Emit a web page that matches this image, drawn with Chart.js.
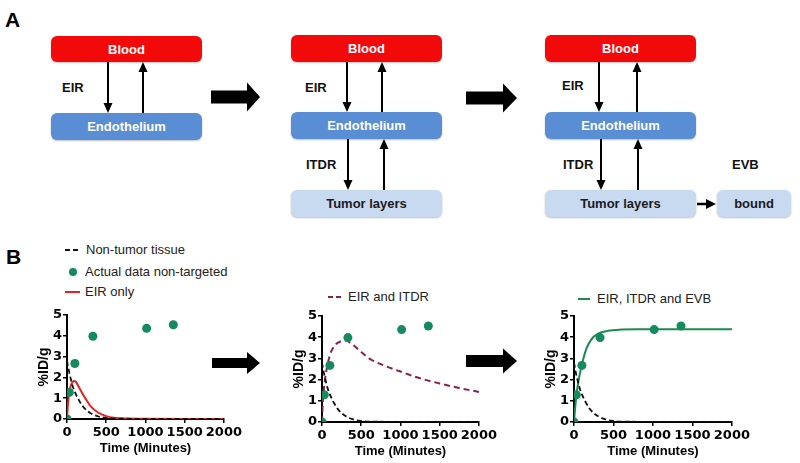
<!DOCTYPE html>
<html>
<head>
<meta charset="utf-8">
<script src="https://cdn.jsdelivr.net/npm/chart.js@4"></script>
<style>
body { margin: 0; background: #fff; width: 800px; height: 463px; position: relative; overflow: hidden; font-family: "Liberation Sans", Arial, sans-serif; }
.caja { position: absolute; border-radius: 6px; font-weight: bold; font-size: 13px; display: flex; align-items: center; justify-content: center; box-shadow: 0 1px 2px rgba(0,0,0,0.25); }
.roja { background: #f20a0a; color: #fff; }
.azul { background: #5a8ed4; color: #fff; }
.clara { background: #c8daf0; color: #1b1b24; }
.etq { position: absolute; font-weight: bold; font-size: 13px; line-height: 13px; color: #111; }
.panel { position: absolute; font-weight: bold; font-size: 21px; line-height: 21px; }
.leyenda { position: absolute; font-size: 13px; line-height: 14px; display: flex; align-items: center; white-space: nowrap; color: #222; }
.leyenda svg { margin-right: 5px; }
canvas { position: absolute; }
#flechas { position: absolute; left: 0; top: 0; }
</style>
</head>
<body>

<div class="panel" style="left:5px;top:9px">A</div>
<div class="panel" style="left:6px;top:246px">B</div>

<!-- Panel A: esquemas -->
<div class="caja roja" style="left:51px;top:36px;width:151px;height:26px">Blood</div>
<div class="caja azul" style="left:51px;top:113px;width:151px;height:27px">Endothelium</div>
<div class="etq" style="left:62px;top:81px">EIR</div>

<div class="caja roja" style="left:291px;top:35px;width:151px;height:27px">Blood</div>
<div class="caja azul" style="left:291px;top:112px;width:151px;height:27px">Endothelium</div>
<div class="caja clara" style="left:291px;top:190px;width:151px;height:27px">Tumor layers</div>
<div class="etq" style="left:305px;top:81px">EIR</div>
<div class="etq" style="left:306px;top:158px">ITDR</div>

<div class="caja roja" style="left:545px;top:35px;width:151px;height:27px">Blood</div>
<div class="caja azul" style="left:545px;top:112px;width:151px;height:27px">Endothelium</div>
<div class="caja clara" style="left:545px;top:190px;width:151px;height:27px">Tumor layers</div>
<div class="caja clara" style="left:717px;top:190px;width:74px;height:27px">bound</div>
<div class="etq" style="left:562px;top:79px">EIR</div>
<div class="etq" style="left:563px;top:158px">ITDR</div>
<div class="etq" style="left:732px;top:158px">EVB</div>

<svg id="flechas" width="800" height="463"></svg>

<!-- Panel B: leyendas -->
<div class="leyenda" style="left:65px;top:243px">
  <svg width="16" height="4"><line x1="0" y1="2" x2="16" y2="2" stroke="#111" stroke-width="2" stroke-dasharray="5,3"/></svg>Non-tumor tissue</div>
<div class="leyenda" style="left:68px;top:265px">
  <svg width="12" height="10"><circle cx="5" cy="5" r="4" fill="#158a5e"/></svg>Actual data non-targeted</div>
<div class="leyenda" style="left:65px;top:285px">
  <svg width="15" height="4"><line x1="0" y1="2" x2="15" y2="2" stroke="#e8231f" stroke-width="2"/></svg>EIR only</div>
<div class="leyenda" style="left:328px;top:290px">
  <svg width="15" height="4"><line x1="0" y1="2" x2="15" y2="2" stroke="#8a1f4f" stroke-width="2" stroke-dasharray="5,3"/></svg>EIR and ITDR</div>
<div class="leyenda" style="left:578px;top:292px">
  <svg width="14" height="4"><line x1="0" y1="2" x2="12" y2="2" stroke="#1c8a4e" stroke-width="2"/></svg>EIR, ITDR and EVB</div>

<canvas id="grafico-1" width="224" height="152" style="left:20px;top:305px"></canvas>
<canvas id="grafico-2" width="224" height="154" style="left:275px;top:306px"></canvas>
<canvas id="grafico-3" width="225" height="154" style="left:527px;top:306px"></canvas>

<script>
// Datos
const ticksTiempo = [0, 500, 1000, 1500, 2000];
const ticksID = [0, 1, 2, 3, 4, 5];

// Datos reales (no dirigidos)
const tiempoDatos = [0, 30, 100, 330, 1015, 1355];
const datosNoDirigidos = [0, 1.28, 2.67, 3.98, 4.36, 4.53];

// Tejido no tumoral (línea negra discontinua)
const tiempoTejido = [0, 25, 50, 75, 100, 150, 200, 250, 300, 400, 500, 600, 800, 1000, 1500, 2000];
const tejidoNoTumoral = [2.8, 2.3, 1.9, 1.55, 1.3, 0.92, 0.62, 0.42, 0.28, 0.12, 0.05, 0.02, 0.01, 0, 0, 0];

// Solo EIR
const tiempoEIR = [0, 10, 25, 50, 75, 90, 110, 150, 200, 250, 300, 400, 500, 600, 800, 1000, 1500, 2000];
const soloEIR = [0, 0.6, 1.2, 1.62, 1.8, 1.83, 1.8, 1.55, 1.2, 0.9, 0.62, 0.3, 0.14, 0.06, 0.02, 0.01, 0, 0];

// EIR e ITDR
const tiempoITDR = [0, 10, 25, 55, 100, 160, 250, 300, 400, 500, 600, 800, 1000, 1250, 1500, 1750, 2000];
const eirItdr = [0, 0.9, 1.6, 2.4, 3.15, 3.6, 3.82, 3.84, 3.62, 3.3, 3.0, 2.65, 2.38, 2.06, 1.82, 1.6, 1.42];

// EIR, ITDR y EVB
const tiempoEVB = [0, 10, 30, 60, 93, 157, 220, 305, 430, 600, 800, 1000, 1500, 2000];
const eirItdrEvb = [0, 0.45, 1.26, 2.0, 2.6, 3.46, 3.9, 4.17, 4.3, 4.36, 4.38, 4.38, 4.38, 4.38];

const aPuntos = (xs, ys) => xs.map((x, i) => ({ x: x, y: ys[i] }));

// Flechas del esquema
function dibujarFlechas() {
    const svg = document.getElementById('flechas');
    let html = '';
    // flecha fina vertical: de y1 a y2, punta en y2
    const vertical = (x, y1, y2) => {
        const d = y2 > y1 ? 1 : -1;
        html += `<line x1="${x}" y1="${y1}" x2="${x}" y2="${y2 - d * 8}" stroke="#000" stroke-width="2"/>`;
        html += `<polygon points="${x - 4.5},${y2 - d * 10} ${x + 4.5},${y2 - d * 10} ${x},${y2}" fill="#000"/>`;
    };
    const gruesa = (x0, xh, xt, yc, hs, hh) => {
        html += `<polygon points="${x0},${yc - hs} ${xh},${yc - hs} ${xh},${yc - hh} ${xt},${yc} ${xh},${yc + hh} ${xh},${yc + hs} ${x0},${yc + hs}" fill="#000"/>`;
    };
    vertical(108, 62, 113); vertical(143, 113, 62);
    vertical(347, 62, 112); vertical(382, 112, 62);
    vertical(348, 139, 190); vertical(384, 190, 139);
    vertical(599, 62, 112); vertical(637, 112, 62);
    vertical(601, 139, 190); vertical(638, 190, 139);
    // flecha horizontal hacia "bound"
    html += `<line x1="697" y1="204" x2="708" y2="204" stroke="#000" stroke-width="2.5"/>`;
    html += `<polygon points="706,199 716,204 706,209" fill="#000"/>`;
    gruesa(211, 247, 260, 97, 6.5, 14.5);
    gruesa(466, 503, 517, 98, 6.5, 14.5);
    gruesa(212, 247, 260, 363, 5, 11);
    gruesa(466, 503, 517, 361, 6, 12.5);
    svg.innerHTML = html;
}

function serieTejido() {
    return {
        data: aPuntos(tiempoTejido, tejidoNoTumoral),
        showLine: true, pointRadius: 0, borderColor: '#111', borderWidth: 1.8,
        borderDash: [5, 3], cubicInterpolationMode: 'monotone'
    };
}

function seriePuntos() {
    return {
        data: aPuntos(tiempoDatos, datosNoDirigidos),
        showLine: false, pointRadius: 4.5, pointBackgroundColor: '#158a5e',
        pointBorderWidth: 0, borderColor: '#158a5e'
    };
}

function serieCurva(xs, ys, color, dash) {
    return {
        data: aPuntos(xs, ys),
        showLine: true, pointRadius: 0, borderColor: color, borderWidth: 2,
        borderDash: dash || [], cubicInterpolationMode: 'monotone'
    };
}

function crearGrafico(id, datasets) {
    const fuenteTicks = { family: 'DejaVu Sans', weight: 'bold', size: 13 };
    const fuenteTitulo = { family: 'Liberation Sans', weight: 'bold', size: 13 };
    const ctx = document.getElementById(id).getContext('2d');
    new Chart(ctx, {
        type: 'scatter',
        data: { datasets: datasets },
        options: {
            responsive: false,
            animation: false,
            layout: { padding: { top: 10, right: 20, left: 0, bottom: 0 } },
            plugins: { legend: { display: false }, tooltip: { enabled: false } },
            scales: {
                x: {
                    type: 'linear', min: 0, max: 2000,
                    afterBuildTicks: s => { s.ticks = ticksTiempo.map(v => ({ value: v })); },
                    afterFit: s => { s.height = 38; },
                    grid: { drawOnChartArea: false, color: '#000', lineWidth: 1.5, tickLength: 4 },
                    border: { color: '#000', width: 2 },
                    ticks: { color: '#000', font: fuenteTicks, padding: 2, maxRotation: 0, autoSkip: false, callback: v => String(v) },
                    title: { display: true, text: 'Time (Minutes)', color: '#000', font: fuenteTitulo, padding: { top: 0, bottom: 1 } }
                },
                y: {
                    min: 0, max: 5,
                    afterBuildTicks: s => { s.ticks = ticksID.map(v => ({ value: v })); },
                    afterFit: s => { s.width = 47; },
                    grid: { drawOnChartArea: false, color: '#000', lineWidth: 1.5, tickLength: 4 },
                    border: { color: '#000', width: 2 },
                    ticks: { color: '#000', font: fuenteTicks, padding: 1, autoSkip: false, callback: v => String(v) },
                    title: { display: true, text: '%ID/g', color: '#000', font: { family: 'Liberation Sans', weight: 'bold', size: 14 }, padding: { top: 16, bottom: 0 } }
                }
            }
        }
    });
}

document.addEventListener("DOMContentLoaded", () => {
    dibujarFlechas();
    crearGrafico('grafico-1', [seriePuntos(), serieTejido(), serieCurva(tiempoEIR, soloEIR, '#e8231f')]);
    crearGrafico('grafico-2', [seriePuntos(), serieTejido(), serieCurva(tiempoITDR, eirItdr, '#8a1f4f', [6, 4])]);
    crearGrafico('grafico-3', [seriePuntos(), serieTejido(), serieCurva(tiempoEVB, eirItdrEvb, '#1c8a4e')]);
});
</script>
</body>
</html>
